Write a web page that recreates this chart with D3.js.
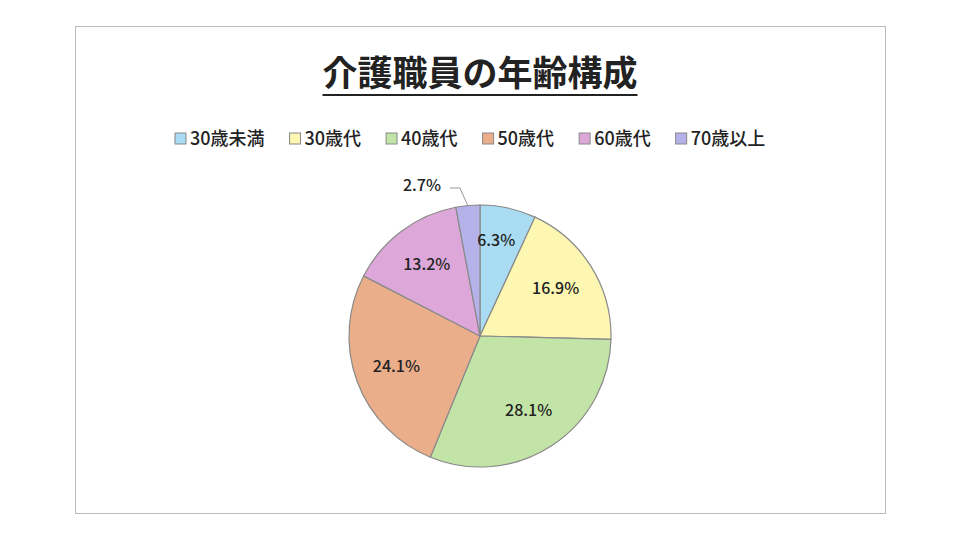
<!DOCTYPE html>
<html><head><meta charset="utf-8">
<script src="https://cdn.jsdelivr.net/npm/d3@7"></script>
<style>body{margin:0;background:#fff;font-family:"Noto Sans CJK JP","Noto Sans",sans-serif;}</style>
</head><body><svg id="c" width="960" height="540"></svg>
<script>
var categories = ["30歳未満", "30歳代", "40歳代", "50歳代", "60歳代", "70歳以上"];
var values = [6.3, 16.9, 28.1, 24.1, 13.2, 2.7];
var colors = ["#a9dcf3", "#fdf7b2", "#c3e4a7", "#eaae8a", "#dda8d9", "#b5b2ea"];

var svg = d3.select("#c");
svg.append("rect").attr("x", 75.5).attr("y", 26.5).attr("width", 810).attr("height", 487)
  .attr("fill", "#fff").attr("stroke", "#bbb");

var title = svg.append("text").attr("x", 480).attr("y", 86).attr("text-anchor", "middle")
  .attr("font-size", 35).attr("font-weight", "bold").attr("fill", "#222").text("介護職員の年齢構成");
var tw = title.node().getComputedTextLength();
svg.append("line").attr("x1", 480 - tw / 2).attr("x2", 480 + tw / 2).attr("y1", 95).attr("y2", 95)
  .attr("stroke", "#222").attr("stroke-width", 2);

// legend
var legend = svg.append("g").attr("transform", "translate(175,145)");
var lx = 0;
categories.forEach(function (c, i) {
  var g = legend.append("g").attr("transform", "translate(" + lx + ",0)");
  g.append("rect").attr("x", 0).attr("y", -12).attr("width", 11).attr("height", 11)
    .attr("fill", colors[i]).attr("stroke", "#888").attr("stroke-width", 1);
  var t = g.append("text").attr("x", 15).attr("y", 0).attr("font-size", 18).attr("font-weight", 500)
    .attr("fill", "#222").text(c);
  lx += 15 + t.node().getComputedTextLength() + 25;
});

var cx = 480, cy = 336, r = 131;
var pie = d3.pie().sort(null).value(function (d) { return d; });
var arcs = pie(values);
var arc = d3.arc().innerRadius(0).outerRadius(r);
var labelArc = d3.arc().innerRadius(r * 0.68).outerRadius(r * 0.68);
var g = svg.append("g").attr("transform", "translate(" + cx + "," + cy + ")");
g.selectAll("path").data(arcs).enter().append("path")
  .attr("d", arc).attr("fill", function (d, i) { return colors[i]; })
  .attr("stroke", "#8a8a8a").attr("stroke-width", 1.2);

g.selectAll("text.lbl").data(arcs).enter().append("text")
  .attr("class", "lbl").attr("text-anchor", "middle").attr("font-size", 16).attr("font-weight", 500).attr("fill", "#222")
  .attr("transform", function (d, i) {
    if (i === 5) return "translate(-58,-145)";
    var p = labelArc.centroid(d);
    if (i === 0) p = [p[0] - 3, p[1] - 8];
    return "translate(" + p[0] + "," + (p[1] + 5) + ")";
  })
  .text(function (d) { return d.data.toFixed(1) + "%"; });

// leader line for small slice
var s = arcs[5], mid = (s.startAngle + s.endAngle) / 2;
var ex = Math.sin(mid) * r, ey = -Math.cos(mid) * r;
g.append("polyline").attr("fill", "none").attr("stroke", "#999")
  .attr("points", [[ex, ey], [ex - 8, -148], [-30, -148]].map(function (p) { return p.join(","); }).join(" "));
</script></body></html>
